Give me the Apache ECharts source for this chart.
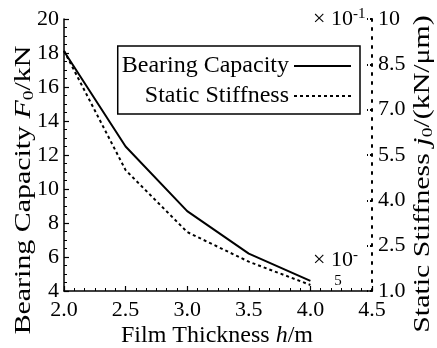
<!DOCTYPE html>
<html>
<head>
<meta charset="utf-8">
<script src="https://cdn.jsdelivr.net/npm/echarts@6/dist/echarts.min.js"></script>
<style>
  html, body { margin: 0; padding: 0; background: #fff; }
  #chart { width: 437px; height: 348px; }
</style>
</head>
<body>
<div id="chart"></div>
<script>
// Film thickness (×10^-5 m) and the two measured quantities
const thickness = [2.0, 2.5, 3.0, 3.5, 4.0];
const bearingCapacity = [18.1, 12.5, 8.7, 6.2, 4.6];      // kN
const staticStiffness = [8.95, 5.0, 2.95, 1.97, 1.2];     // ×10^-1 kN/μm
const seriesNames = ['Bearing Capacity', 'Static Stiffness'];

const FONT = '"Liberation Serif", "Times New Roman", serif';
const INK = '#000';

const chart = echarts.init(document.getElementById('chart'), null, { renderer: 'canvas' });

const pairs = (ys) => thickness.map((x, i) => [x, ys[i]]);

const tickLabel = { color: INK, fontFamily: FONT, fontSize: 22 };

chart.setOption({
  animation: false,
  backgroundColor: '#fff',
  grid: { left: 64, right: 65, top: 19, bottom: 57, containLabel: false },
  legend: {
    orient: 'vertical',
    align: 'right',
    right: 77,
    top: 46,
    padding: [8, 8, 6, 4],
    itemGap: 6,
    itemWidth: 57,
    itemHeight: 20,
    borderColor: INK,
    borderWidth: 1.5,
    // only the line sample is shown, the point marker is hidden
    itemStyle: { color: 'rgba(0,0,0,0)', borderColor: 'rgba(0,0,0,0)', borderWidth: 0 },
    textStyle: { color: INK, fontFamily: FONT, fontSize: 24 },
    data: seriesNames
  },
  xAxis: {
    type: 'value',
    min: 2.0, max: 4.5, interval: 0.5,
    axisLine: { lineStyle: { color: INK, width: 1.5 } },
    axisTick: { inside: true, length: 5, lineStyle: { color: INK, width: 1.2 } },
    minorTick: { show: true, splitNumber: 6, length: 3, lineStyle: { color: INK, width: 1 } },
    splitLine: { show: false },
    axisLabel: Object.assign({ margin: 8, formatter: v => v.toFixed(1) }, tickLabel)
  },
  yAxis: [
    {
      type: 'value',
      min: 4, max: 20, interval: 2,
      axisLine: { show: true, lineStyle: { color: INK, width: 1.5 } },
      axisTick: { inside: true, length: 5, lineStyle: { color: INK, width: 1.2 } },
      minorTick: { show: true, splitNumber: 4, length: 3, lineStyle: { color: INK, width: 1 } },
      splitLine: { show: false },
      axisLabel: Object.assign({ margin: 5 }, tickLabel)
    },
    {
      type: 'value',
      position: 'right',
      min: 1, max: 10, interval: 1.5,
      axisLine: { show: true, lineStyle: { color: INK, width: 2, type: [2, 7] } },
      axisTick: { inside: true, length: 5, lineStyle: { color: INK, width: 2, type: [2, 2] } },
      splitLine: { show: false },
      axisLabel: Object.assign({ margin: 6, formatter: v => (v === 10 ? '10' : v.toFixed(1)) }, tickLabel)
    }
  ],
  series: [
    {
      name: seriesNames[0],
      type: 'line',
      yAxisIndex: 0,
      symbol: 'none',
      lineStyle: { color: INK, width: 2 },
      itemStyle: { color: INK },
      data: pairs(bearingCapacity)
    },
    {
      name: seriesNames[1],
      type: 'line',
      yAxisIndex: 1,
      symbol: 'none',
      lineStyle: { color: INK, width: 2, type: [3, 3] },
      itemStyle: { color: INK },
      data: pairs(staticStiffness)
    }
  ],
  graphic: [
    {
      type: 'text',
      x: 24, y: 190,
      rotation: Math.PI / 2,
      scaleX: 1.3,
      style: {
        text: 'Bearing Capacity {i|F}{sub|0}/kN',
        font: '23px ' + FONT,
        fill: INK,
        align: 'center',
        verticalAlign: 'middle',
        rich: {
          i: { fontStyle: 'italic', fontSize: 23, fontFamily: FONT },
          sub: { fontSize: 15, fontFamily: FONT, verticalAlign: 'bottom', padding: [10, 0, 0, 0] }
        }
      }
    },
    {
      type: 'text',
      x: 423, y: 174,
      rotation: Math.PI / 2,
      scaleX: 1.3,
      style: {
        text: 'Static Stiffness {i|j}{sub|0}/(kN/μm)',
        font: '23px ' + FONT,
        fill: INK,
        align: 'center',
        verticalAlign: 'middle',
        rich: {
          i: { fontStyle: 'italic', fontSize: 23, fontFamily: FONT },
          sub: { fontSize: 15, fontFamily: FONT, verticalAlign: 'bottom', padding: [10, 0, 0, 0] }
        }
      }
    },
    {
      type: 'text',
      x: 217, y: 336,
      style: {
        text: 'Film Thickness {i|h}/m',
        font: '24px ' + FONT,
        fill: INK,
        align: 'center',
        verticalAlign: 'middle',
        rich: { i: { fontStyle: 'italic', fontSize: 24, fontFamily: FONT } }
      }
    },
    {
      type: 'text',
      x: 313, y: 19,
      style: {
        text: '× 10{sup|-1}',
        font: '22px ' + FONT,
        fill: INK,
        align: 'left',
        verticalAlign: 'middle',
        rich: { sup: { fontSize: 15, fontFamily: FONT, verticalAlign: 'top', padding: [0, 0, 10, 0] } }
      }
    },
    {
      type: 'text',
      x: 313, y: 260,
      style: {
        text: '× 10{sup|-}',
        font: '22px ' + FONT,
        fill: INK,
        align: 'left',
        verticalAlign: 'middle',
        rich: { sup: { fontSize: 15, fontFamily: FONT, verticalAlign: 'top', padding: [0, 0, 10, 0] } }
      }
    },
    {
      type: 'text',
      x: 338, y: 281,
      style: { text: '5', font: '15px ' + FONT, fill: INK, align: 'center', verticalAlign: 'middle' }
    }
  ]
});
</script>
</body>
</html>
